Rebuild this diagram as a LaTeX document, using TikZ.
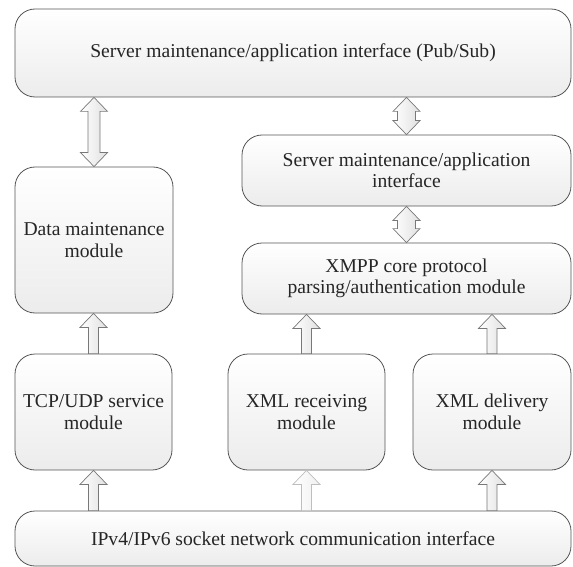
\documentclass[tikz,border=0pt]{standalone}
\usepackage{fontspec}
\setmainfont{Liberation Serif}
\usetikzlibrary{calc}
\definecolor{boxline}{RGB}{85,85,85}
\definecolor{boxbot}{RGB}{236,236,236}
\definecolor{arrline}{RGB}{120,120,120}
\definecolor{arrlight}{RGB}{190,190,190}
\tikzset{
  box/.style={draw=boxline, line width=0.8pt, rounded corners=20pt,
    top color=white, bottom color=boxbot, inner sep=0pt, align=center,
    font=\fontsize{19.6}{21.5}\selectfont, text=black!85},
  arrowshape/.style={draw=arrline, line width=0.7pt, left color=white, right color=black!12, line join=miter},
  lightarrow/.style={arrowshape, draw=arrlight, right color=black!6},
}
\newcommand{\uparr}[3][arrowshape]{% #2 lower node (x, y of its top), #3 upper node (y of its bottom)
  \draw[#1] let \p1=(#2.north), \p2=(#3.south) in
    (\x1-5pt,\y1) -- (\x1-5pt,\y2-14pt) -- (\x1-13.5pt,\y2-14pt) -- (\x1,\y2)
    -- (\x1+13.5pt,\y2-14pt) -- (\x1+5pt,\y2-14pt) -- (\x1+5pt,\y1) -- cycle;}
\newcommand{\uparrb}[3][arrowshape]{% #2 lower node gives x via south, #3 base node gives y via north
  \draw[#1] let \p1=(#2.south), \p2=(#3.north) in
    (\x1-5pt,\y2) -- (\x1-5pt,\y1-14pt) -- (\x1-13.5pt,\y1-14pt) -- (\x1,\y1)
    -- (\x1+13.5pt,\y1-14pt) -- (\x1+5pt,\y1-14pt) -- (\x1+5pt,\y2) -- cycle;}
\newcommand{\dblarr}[4]{% #1 lower node, #2 upper node, #3 half shaft, #4 half head
  \draw[arrowshape] let \p1=(#1.north), \p2=(#2.south) in
    (\x1,\y1) -- (\x1+#4,\y1+14pt) -- (\x1+#3,\y1+14pt) -- (\x1+#3,\y2-14pt)
    -- (\x1+#4,\y2-14pt) -- (\x1,\y2) -- (\x1-#4,\y2-14pt) -- (\x1-#3,\y2-14pt)
    -- (\x1-#3,\y1+14pt) -- (\x1-#4,\y1+14pt) -- cycle;}
\begin{document}
\begin{tikzpicture}[x=1pt,y=-1pt]
\useasboundingbox (0,0) rectangle (573,567);
\node[box, minimum width=556pt, minimum height=88pt] (top) at (293,53) {Server maintenance/application interface (Pub/Sub)};
\node[box, minimum width=158pt, minimum height=146pt] (data) at (94,240) {Data maintenance\\module};
\node[box, minimum width=329pt, minimum height=71pt] (srv) at (406.5,170.5) {Server maintenance/application\\interface};
\node[box, minimum width=329pt, minimum height=71pt] (xmpp) at (406.5,278.5) {XMPP core protocol\\parsing/authentication module};
\node[box, minimum width=157pt, minimum height=116pt] (tcp) at (93.5,412) {TCP/UDP service\\module};
\node[box, minimum width=157pt, minimum height=116pt] (recv) at (306.5,412) {XML receiving\\module};
\node[box, minimum width=158pt, minimum height=116pt] (deliv) at (492,412) {XML delivery\\module};
\node[box, minimum width=556pt, minimum height=55pt] (bottom) at (293,538.5) {IPv4/IPv6 socket network communication interface};
% arrows
\dblarr{data}{top}{6pt}{13.5pt}
\dblarr{srv}{top}{9pt}{13.5pt}
\dblarr{xmpp}{srv}{9pt}{13.5pt}
\uparr{tcp}{data}
\uparr{recv}{xmpp}
\uparr{deliv}{xmpp}
\uparrb{tcp}{bottom}
\uparrb[lightarrow]{recv}{bottom}
\uparrb{deliv}{bottom}
\end{tikzpicture}
\end{document}
